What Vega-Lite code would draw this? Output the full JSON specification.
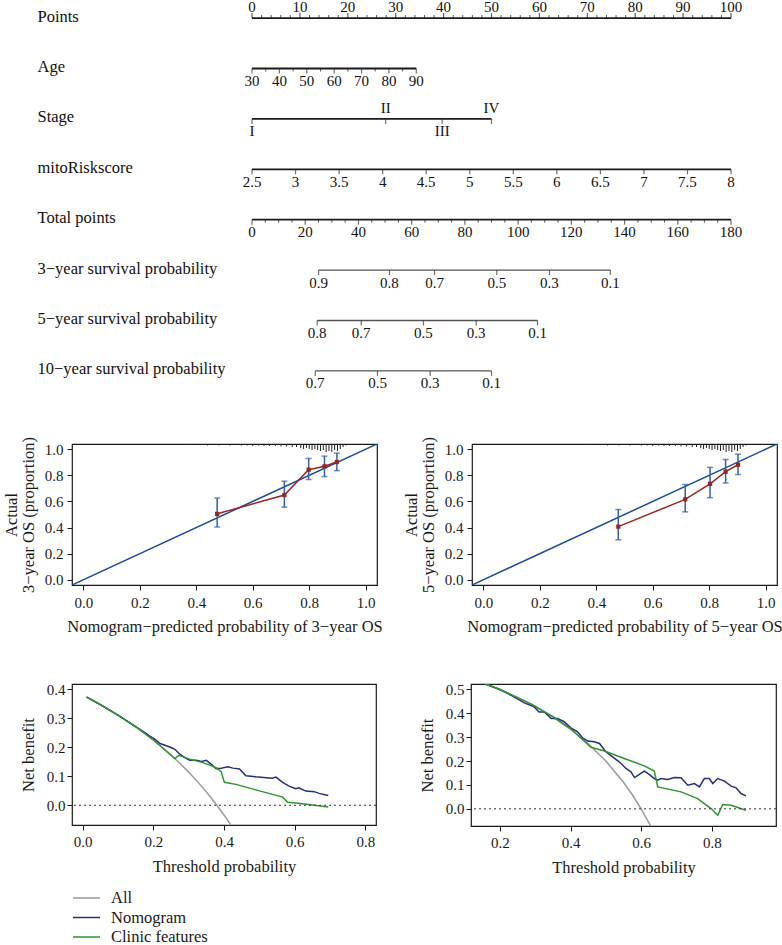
{
  "$schema": "https://vega.github.io/schema/vega-lite/v6.json",
  "padding": {"left": 2, "top": 0, "right": 0, "bottom": 0},
  "background": "white",
  "config": {
    "font": "Liberation Serif",
    "view": {"stroke": "#1a1a1a", "strokeWidth": 1.2},
    "axis": {"labelFont": "Liberation Serif", "titleFont": "Liberation Serif", "labelFontSize": 15, "titleFontSize": 16.5, "titleFontWeight": "normal", "labelColor": "#1a1a1a", "titleColor": "#1a1a1a", "tickColor": "#1a1a1a", "domain": false, "grid": false, "tickSize": 5, "labelFlush": false, "labelOverlap": false},
    "text": {"font": "Liberation Serif", "color": "#111111"}
  },
  "datasets": {
    "nomoMain": [
      {"row": "Points", "pos": 0, "end": 100},
      {"row": "Age", "pos": 0, "end": 34.3},
      {"row": "Stage", "pos": 0, "end": 50},
      {"row": "mitoRiskscore", "pos": 0, "end": 100},
      {"row": "Total points", "pos": 0, "end": 100}
    ],
    "nomoSurv": [
      {"row": "3−year survival probability", "pos": 13.9, "end": 74.8},
      {"row": "5−year survival probability", "pos": 13.6, "end": 59.6},
      {"row": "10−year survival probability", "pos": 13.2, "end": 50.0}
    ],
    "nomoTicks": [
      {"row": "Points", "pos": 0, "lab": "0"}, {"row": "Points", "pos": 10, "lab": "10"}, {"row": "Points", "pos": 20, "lab": "20"}, {"row": "Points", "pos": 30, "lab": "30"}, {"row": "Points", "pos": 40, "lab": "40"}, {"row": "Points", "pos": 50, "lab": "50"}, {"row": "Points", "pos": 60, "lab": "60"}, {"row": "Points", "pos": 70, "lab": "70"}, {"row": "Points", "pos": 80, "lab": "80"}, {"row": "Points", "pos": 90, "lab": "90"}, {"row": "Points", "pos": 100, "lab": "100"},
      {"row": "Points", "pos": 2, "lab": ""}, {"row": "Points", "pos": 4, "lab": ""}, {"row": "Points", "pos": 6, "lab": ""}, {"row": "Points", "pos": 8, "lab": ""},
      {"row": "Points", "pos": 12, "lab": ""}, {"row": "Points", "pos": 14, "lab": ""}, {"row": "Points", "pos": 16, "lab": ""}, {"row": "Points", "pos": 18, "lab": ""},
      {"row": "Points", "pos": 22, "lab": ""}, {"row": "Points", "pos": 24, "lab": ""}, {"row": "Points", "pos": 26, "lab": ""}, {"row": "Points", "pos": 28, "lab": ""},
      {"row": "Points", "pos": 32, "lab": ""}, {"row": "Points", "pos": 34, "lab": ""}, {"row": "Points", "pos": 36, "lab": ""}, {"row": "Points", "pos": 38, "lab": ""},
      {"row": "Points", "pos": 42, "lab": ""}, {"row": "Points", "pos": 44, "lab": ""}, {"row": "Points", "pos": 46, "lab": ""}, {"row": "Points", "pos": 48, "lab": ""},
      {"row": "Points", "pos": 52, "lab": ""}, {"row": "Points", "pos": 54, "lab": ""}, {"row": "Points", "pos": 56, "lab": ""}, {"row": "Points", "pos": 58, "lab": ""},
      {"row": "Points", "pos": 62, "lab": ""}, {"row": "Points", "pos": 64, "lab": ""}, {"row": "Points", "pos": 66, "lab": ""}, {"row": "Points", "pos": 68, "lab": ""},
      {"row": "Points", "pos": 72, "lab": ""}, {"row": "Points", "pos": 74, "lab": ""}, {"row": "Points", "pos": 76, "lab": ""}, {"row": "Points", "pos": 78, "lab": ""},
      {"row": "Points", "pos": 82, "lab": ""}, {"row": "Points", "pos": 84, "lab": ""}, {"row": "Points", "pos": 86, "lab": ""}, {"row": "Points", "pos": 88, "lab": ""},
      {"row": "Points", "pos": 92, "lab": ""}, {"row": "Points", "pos": 94, "lab": ""}, {"row": "Points", "pos": 96, "lab": ""}, {"row": "Points", "pos": 98, "lab": ""},
      {"row": "Age", "pos": 0, "lab": "30"}, {"row": "Age", "pos": 5.72, "lab": "40"}, {"row": "Age", "pos": 11.43, "lab": "50"}, {"row": "Age", "pos": 17.15, "lab": "60"}, {"row": "Age", "pos": 22.87, "lab": "70"}, {"row": "Age", "pos": 28.58, "lab": "80"}, {"row": "Age", "pos": 34.3, "lab": "90"},
      {"row": "Age", "pos": 2.86, "lab": ""}, {"row": "Age", "pos": 8.58, "lab": ""}, {"row": "Age", "pos": 14.29, "lab": ""}, {"row": "Age", "pos": 20.01, "lab": ""}, {"row": "Age", "pos": 25.73, "lab": ""}, {"row": "Age", "pos": 31.44, "lab": ""},
      {"row": "Stage", "pos": 0, "lab": "I"}, {"row": "Stage", "pos": 27.9, "lab": "II"}, {"row": "Stage", "pos": 39.7, "lab": "III"}, {"row": "Stage", "pos": 50.0, "lab": "IV"},
      {"row": "mitoRiskscore", "pos": 0, "lab": "2.5"}, {"row": "mitoRiskscore", "pos": 9.09, "lab": "3"}, {"row": "mitoRiskscore", "pos": 18.18, "lab": "3.5"}, {"row": "mitoRiskscore", "pos": 27.27, "lab": "4"}, {"row": "mitoRiskscore", "pos": 36.36, "lab": "4.5"}, {"row": "mitoRiskscore", "pos": 45.45, "lab": "5"}, {"row": "mitoRiskscore", "pos": 54.55, "lab": "5.5"}, {"row": "mitoRiskscore", "pos": 63.64, "lab": "6"}, {"row": "mitoRiskscore", "pos": 72.73, "lab": "6.5"}, {"row": "mitoRiskscore", "pos": 81.82, "lab": "7"}, {"row": "mitoRiskscore", "pos": 90.91, "lab": "7.5"}, {"row": "mitoRiskscore", "pos": 100, "lab": "8"},
      {"row": "Total points", "pos": 0, "lab": "0"}, {"row": "Total points", "pos": 11.11, "lab": "20"}, {"row": "Total points", "pos": 22.22, "lab": "40"}, {"row": "Total points", "pos": 33.33, "lab": "60"}, {"row": "Total points", "pos": 44.44, "lab": "80"}, {"row": "Total points", "pos": 55.56, "lab": "100"}, {"row": "Total points", "pos": 66.67, "lab": "120"}, {"row": "Total points", "pos": 77.78, "lab": "140"}, {"row": "Total points", "pos": 88.89, "lab": "160"}, {"row": "Total points", "pos": 100, "lab": "180"},
      {"row": "Total points", "pos": 2.78, "lab": ""}, {"row": "Total points", "pos": 5.56, "lab": ""}, {"row": "Total points", "pos": 8.33, "lab": ""},
      {"row": "Total points", "pos": 13.89, "lab": ""}, {"row": "Total points", "pos": 16.67, "lab": ""}, {"row": "Total points", "pos": 19.44, "lab": ""},
      {"row": "Total points", "pos": 25.0, "lab": ""}, {"row": "Total points", "pos": 27.78, "lab": ""}, {"row": "Total points", "pos": 30.56, "lab": ""},
      {"row": "Total points", "pos": 36.11, "lab": ""}, {"row": "Total points", "pos": 38.89, "lab": ""}, {"row": "Total points", "pos": 41.67, "lab": ""},
      {"row": "Total points", "pos": 47.22, "lab": ""}, {"row": "Total points", "pos": 50.0, "lab": ""}, {"row": "Total points", "pos": 52.78, "lab": ""},
      {"row": "Total points", "pos": 58.33, "lab": ""}, {"row": "Total points", "pos": 61.11, "lab": ""}, {"row": "Total points", "pos": 63.89, "lab": ""},
      {"row": "Total points", "pos": 69.44, "lab": ""}, {"row": "Total points", "pos": 72.22, "lab": ""}, {"row": "Total points", "pos": 75.0, "lab": ""},
      {"row": "Total points", "pos": 80.56, "lab": ""}, {"row": "Total points", "pos": 83.33, "lab": ""}, {"row": "Total points", "pos": 86.11, "lab": ""},
      {"row": "Total points", "pos": 91.67, "lab": ""}, {"row": "Total points", "pos": 94.44, "lab": ""}, {"row": "Total points", "pos": 97.22, "lab": ""},
      {"row": "3−year survival probability", "pos": 13.9, "lab": "0.9"}, {"row": "3−year survival probability", "pos": 28.7, "lab": "0.8"}, {"row": "3−year survival probability", "pos": 38.1, "lab": "0.7"}, {"row": "3−year survival probability", "pos": 51.1, "lab": "0.5"}, {"row": "3−year survival probability", "pos": 62.1, "lab": "0.3"}, {"row": "3−year survival probability", "pos": 74.8, "lab": "0.1"},
      {"row": "5−year survival probability", "pos": 13.6, "lab": "0.8"}, {"row": "5−year survival probability", "pos": 22.8, "lab": "0.7"}, {"row": "5−year survival probability", "pos": 35.8, "lab": "0.5"}, {"row": "5−year survival probability", "pos": 46.8, "lab": "0.3"}, {"row": "5−year survival probability", "pos": 59.6, "lab": "0.1"},
      {"row": "10−year survival probability", "pos": 13.2, "lab": "0.7"}, {"row": "10−year survival probability", "pos": 26.2, "lab": "0.5"}, {"row": "10−year survival probability", "pos": 37.2, "lab": "0.3"}, {"row": "10−year survival probability", "pos": 50.0, "lab": "0.1"}
    ],
    "diag": [{"p": -0.04}, {"p": 1.04}],
    "rug": [
      {"pred": 0.34, "low": 1.0323}, {"pred": 0.36, "low": 1.0323}, {"pred": 0.38, "low": 1.0323}, {"pred": 0.40, "low": 1.0323}, {"pred": 0.42, "low": 1.0323},
      {"pred": 0.44, "low": 1.0285}, {"pred": 0.46, "low": 1.0323}, {"pred": 0.48, "low": 1.0285}, {"pred": 0.50, "low": 1.0323}, {"pred": 0.52, "low": 1.0285},
      {"pred": 0.54, "low": 1.0323}, {"pred": 0.56, "low": 1.0285}, {"pred": 0.58, "low": 1.0285}, {"pred": 0.60, "low": 1.0247}, {"pred": 0.62, "low": 1.0285},
      {"pred": 0.64, "low": 1.0247}, {"pred": 0.66, "low": 1.0247}, {"pred": 0.68, "low": 1.0247}, {"pred": 0.70, "low": 1.0209}, {"pred": 0.72, "low": 1.0209},
      {"pred": 0.74, "low": 1.017}, {"pred": 0.755, "low": 1.017}, {"pred": 0.77, "low": 1.0094}, {"pred": 0.78, "low": 1.0017}, {"pred": 0.79, "low": 1.0094},
      {"pred": 0.80, "low": 1.0017}, {"pred": 0.81, "low": 0.994}, {"pred": 0.82, "low": 1.0017}, {"pred": 0.83, "low": 0.994}, {"pred": 0.84, "low": 0.9864},
      {"pred": 0.85, "low": 0.994}, {"pred": 0.86, "low": 0.9787}, {"pred": 0.87, "low": 0.9864}, {"pred": 0.88, "low": 0.9787}, {"pred": 0.89, "low": 0.994},
      {"pred": 0.90, "low": 0.9864}, {"pred": 0.91, "low": 1.0017}, {"pred": 0.92, "low": 1.017}, {"pred": 0.93, "low": 1.0285}
    ],
    "cal3": [
      {"pred": 0.474, "obs": 0.505, "lo": 0.404, "hi": 0.626},
      {"pred": 0.712, "obs": 0.649, "lo": 0.556, "hi": 0.755},
      {"pred": 0.798, "obs": 0.843, "lo": 0.768, "hi": 0.929},
      {"pred": 0.854, "obs": 0.869, "lo": 0.79, "hi": 0.947},
      {"pred": 0.898, "obs": 0.902, "lo": 0.836, "hi": 0.97}
    ],
    "cal5": [
      {"pred": 0.478, "obs": 0.407, "lo": 0.306, "hi": 0.538},
      {"pred": 0.715, "obs": 0.616, "lo": 0.52, "hi": 0.73},
      {"pred": 0.803, "obs": 0.735, "lo": 0.629, "hi": 0.861},
      {"pred": 0.858, "obs": 0.828, "lo": 0.742, "hi": 0.922},
      {"pred": 0.902, "obs": 0.881, "lo": 0.806, "hi": 0.962}
    ],
    "zero": [{"v": 0}],
    "dca1": [
      {"model": "All", "t": 0.01, "nb": 0.3737}, {"model": "All", "t": 0.05, "nb": 0.3474}, {"model": "All", "t": 0.1, "nb": 0.3111}, {"model": "All", "t": 0.15, "nb": 0.2706}, {"model": "All", "t": 0.2, "nb": 0.225}, {"model": "All", "t": 0.225, "nb": 0.2}, {"model": "All", "t": 0.25, "nb": 0.1733}, {"model": "All", "t": 0.275, "nb": 0.1448}, {"model": "All", "t": 0.3, "nb": 0.1143}, {"model": "All", "t": 0.325, "nb": 0.0815}, {"model": "All", "t": 0.35, "nb": 0.0462}, {"model": "All", "t": 0.375, "nb": 0.008}, {"model": "All", "t": 0.4, "nb": -0.0333}, {"model": "All", "t": 0.419, "nb": -0.0675},
      {"model": "Nomogram", "t": 0.012, "nb": 0.373}, {"model": "Nomogram", "t": 0.05, "nb": 0.347}, {"model": "Nomogram", "t": 0.1, "nb": 0.311}, {"model": "Nomogram", "t": 0.15, "nb": 0.271}, {"model": "Nomogram", "t": 0.172, "nb": 0.254}, {"model": "Nomogram", "t": 0.19, "nb": 0.238}, {"model": "Nomogram", "t": 0.204, "nb": 0.228}, {"model": "Nomogram", "t": 0.219, "nb": 0.213}, {"model": "Nomogram", "t": 0.237, "nb": 0.205}, {"model": "Nomogram", "t": 0.247, "nb": 0.201}, {"model": "Nomogram", "t": 0.261, "nb": 0.193}, {"model": "Nomogram", "t": 0.275, "nb": 0.176}, {"model": "Nomogram", "t": 0.289, "nb": 0.164}, {"model": "Nomogram", "t": 0.303, "nb": 0.155}, {"model": "Nomogram", "t": 0.322, "nb": 0.155}, {"model": "Nomogram", "t": 0.336, "nb": 0.151}, {"model": "Nomogram", "t": 0.35, "nb": 0.155}, {"model": "Nomogram", "t": 0.364, "nb": 0.141}, {"model": "Nomogram", "t": 0.378, "nb": 0.126}, {"model": "Nomogram", "t": 0.392, "nb": 0.128}, {"model": "Nomogram", "t": 0.411, "nb": 0.133}, {"model": "Nomogram", "t": 0.425, "nb": 0.128}, {"model": "Nomogram", "t": 0.444, "nb": 0.125}, {"model": "Nomogram", "t": 0.462, "nb": 0.102}, {"model": "Nomogram", "t": 0.49, "nb": 0.098}, {"model": "Nomogram", "t": 0.519, "nb": 0.095}, {"model": "Nomogram", "t": 0.537, "nb": 0.093}, {"model": "Nomogram", "t": 0.547, "nb": 0.097}, {"model": "Nomogram", "t": 0.566, "nb": 0.079}, {"model": "Nomogram", "t": 0.584, "nb": 0.066}, {"model": "Nomogram", "t": 0.603, "nb": 0.057}, {"model": "Nomogram", "t": 0.612, "nb": 0.06}, {"model": "Nomogram", "t": 0.631, "nb": 0.049}, {"model": "Nomogram", "t": 0.655, "nb": 0.047}, {"model": "Nomogram", "t": 0.669, "nb": 0.041}, {"model": "Nomogram", "t": 0.695, "nb": 0.034},
      {"model": "Clinic features", "t": 0.012, "nb": 0.373}, {"model": "Clinic features", "t": 0.05, "nb": 0.347}, {"model": "Clinic features", "t": 0.1, "nb": 0.311}, {"model": "Clinic features", "t": 0.15, "nb": 0.271}, {"model": "Clinic features", "t": 0.2, "nb": 0.225}, {"model": "Clinic features", "t": 0.261, "nb": 0.161}, {"model": "Clinic features", "t": 0.272, "nb": 0.172}, {"model": "Clinic features", "t": 0.303, "nb": 0.159}, {"model": "Clinic features", "t": 0.34, "nb": 0.147}, {"model": "Clinic features", "t": 0.378, "nb": 0.13}, {"model": "Clinic features", "t": 0.392, "nb": 0.116}, {"model": "Clinic features", "t": 0.401, "nb": 0.079}, {"model": "Clinic features", "t": 0.434, "nb": 0.072}, {"model": "Clinic features", "t": 0.49, "nb": 0.053}, {"model": "Clinic features", "t": 0.566, "nb": 0.028}, {"model": "Clinic features", "t": 0.58, "nb": 0.01}, {"model": "Clinic features", "t": 0.603, "nb": 0.008}, {"model": "Clinic features", "t": 0.65, "nb": 0.001}, {"model": "Clinic features", "t": 0.695, "nb": -0.006}
    ],
    "dca2": [
      {"model": "All", "t": 0.16, "nb": 0.5238}, {"model": "All", "t": 0.2, "nb": 0.5}, {"model": "All", "t": 0.25, "nb": 0.4667}, {"model": "All", "t": 0.3, "nb": 0.4286}, {"model": "All", "t": 0.35, "nb": 0.3846}, {"model": "All", "t": 0.4, "nb": 0.3333}, {"model": "All", "t": 0.45, "nb": 0.2727}, {"model": "All", "t": 0.5, "nb": 0.2}, {"model": "All", "t": 0.55, "nb": 0.1111}, {"model": "All", "t": 0.575, "nb": 0.0588}, {"model": "All", "t": 0.6, "nb": 0.0}, {"model": "All", "t": 0.627, "nb": -0.072},
      {"model": "Nomogram", "t": 0.16, "nb": 0.522}, {"model": "Nomogram", "t": 0.2, "nb": 0.5}, {"model": "Nomogram", "t": 0.231, "nb": 0.476}, {"model": "Nomogram", "t": 0.269, "nb": 0.444}, {"model": "Nomogram", "t": 0.297, "nb": 0.427}, {"model": "Nomogram", "t": 0.311, "nb": 0.406}, {"model": "Nomogram", "t": 0.326, "nb": 0.406}, {"model": "Nomogram", "t": 0.345, "nb": 0.378}, {"model": "Nomogram", "t": 0.363, "nb": 0.378}, {"model": "Nomogram", "t": 0.382, "nb": 0.365}, {"model": "Nomogram", "t": 0.401, "nb": 0.339}, {"model": "Nomogram", "t": 0.42, "nb": 0.323}, {"model": "Nomogram", "t": 0.434, "nb": 0.297}, {"model": "Nomogram", "t": 0.449, "nb": 0.284}, {"model": "Nomogram", "t": 0.467, "nb": 0.281}, {"model": "Nomogram", "t": 0.482, "nb": 0.274}, {"model": "Nomogram", "t": 0.5, "nb": 0.239}, {"model": "Nomogram", "t": 0.519, "nb": 0.218}, {"model": "Nomogram", "t": 0.538, "nb": 0.197}, {"model": "Nomogram", "t": 0.557, "nb": 0.169}, {"model": "Nomogram", "t": 0.571, "nb": 0.155}, {"model": "Nomogram", "t": 0.581, "nb": 0.131}, {"model": "Nomogram", "t": 0.595, "nb": 0.144}, {"model": "Nomogram", "t": 0.609, "nb": 0.158}, {"model": "Nomogram", "t": 0.623, "nb": 0.144}, {"model": "Nomogram", "t": 0.637, "nb": 0.127}, {"model": "Nomogram", "t": 0.647, "nb": 0.12}, {"model": "Nomogram", "t": 0.656, "nb": 0.127}, {"model": "Nomogram", "t": 0.675, "nb": 0.123}, {"model": "Nomogram", "t": 0.694, "nb": 0.131}, {"model": "Nomogram", "t": 0.713, "nb": 0.13}, {"model": "Nomogram", "t": 0.732, "nb": 0.099}, {"model": "Nomogram", "t": 0.751, "nb": 0.106}, {"model": "Nomogram", "t": 0.765, "nb": 0.092}, {"model": "Nomogram", "t": 0.779, "nb": 0.127}, {"model": "Nomogram", "t": 0.793, "nb": 0.127}, {"model": "Nomogram", "t": 0.803, "nb": 0.106}, {"model": "Nomogram", "t": 0.817, "nb": 0.127}, {"model": "Nomogram", "t": 0.836, "nb": 0.116}, {"model": "Nomogram", "t": 0.855, "nb": 0.095}, {"model": "Nomogram", "t": 0.869, "nb": 0.088}, {"model": "Nomogram", "t": 0.883, "nb": 0.064}, {"model": "Nomogram", "t": 0.897, "nb": 0.054},
      {"model": "Clinic features", "t": 0.16, "nb": 0.522}, {"model": "Clinic features", "t": 0.2, "nb": 0.5}, {"model": "Clinic features", "t": 0.288, "nb": 0.44}, {"model": "Clinic features", "t": 0.354, "nb": 0.383}, {"model": "Clinic features", "t": 0.401, "nb": 0.335}, {"model": "Clinic features", "t": 0.458, "nb": 0.258}, {"model": "Clinic features", "t": 0.496, "nb": 0.242}, {"model": "Clinic features", "t": 0.552, "nb": 0.211}, {"model": "Clinic features", "t": 0.609, "nb": 0.18}, {"model": "Clinic features", "t": 0.637, "nb": 0.158}, {"model": "Clinic features", "t": 0.647, "nb": 0.092}, {"model": "Clinic features", "t": 0.713, "nb": 0.071}, {"model": "Clinic features", "t": 0.76, "nb": 0.043}, {"model": "Clinic features", "t": 0.798, "nb": 0.001}, {"model": "Clinic features", "t": 0.817, "nb": -0.027}, {"model": "Clinic features", "t": 0.831, "nb": 0.018}, {"model": "Clinic features", "t": 0.855, "nb": 0.015}, {"model": "Clinic features", "t": 0.897, "nb": -0.006}
    ]
  },
  "resolve": {"scale": {"x": "independent", "y": "independent"}},
  "spacing": 43,
  "vconcat": [
    {
      "width": 680,
      "height": 383,
      "view": {"stroke": null},
      "encoding": {
        "x": {"field": "pos", "type": "quantitative", "scale": {"domain": [-37.58, 104.38], "nice": false, "zero": false}, "axis": null},
        "y": {"field": "row", "type": "nominal", "sort": null,
              "scale": {"type": "point", "padding": 0.3, "domain": ["Points", "Age", "Stage", "mitoRiskscore", "Total points", "3−year survival probability", "5−year survival probability", "10−year survival probability"]},
              "axis": {"title": null, "domain": false, "ticks": false, "tickSize": 0, "labelAlign": "left", "labelBaseline": "middle", "labelPadding": 35, "labelFontSize": 16.5, "labelColor": "#111111", "labelOffset": -2, "labelLimit": 400}}
      },
      "layer": [
        {"data": {"name": "nomoMain"}, "mark": {"type": "rule", "strokeWidth": 1.8, "color": "#1a1a1a"}, "encoding": {"x2": {"field": "end"}}},
        {"data": {"name": "nomoSurv"}, "mark": {"type": "rule", "strokeWidth": 1.3, "color": "#555555"}, "encoding": {"x2": {"field": "end"}}},
        {"data": {"name": "nomoTicks"}, "transform": [{"filter": "datum.row === 'Points' && datum.lab !== ''"}], "mark": {"type": "tick", "orient": "vertical", "size": 5, "thickness": 1.2, "yOffset": -2.5, "color": "#1a1a1a"}},
        {"data": {"name": "nomoTicks"}, "transform": [{"filter": "datum.row === 'Points' && datum.lab === ''"}], "mark": {"type": "tick", "orient": "vertical", "size": 3, "thickness": 1, "yOffset": -1.5, "color": "#1a1a1a"}},
        {"data": {"name": "nomoTicks"}, "transform": [{"filter": "datum.row !== 'Points' && datum.lab !== ''"}], "mark": {"type": "tick", "orient": "vertical", "size": 5, "thickness": 1.2, "yOffset": 2.5, "color": "#333333"}},
        {"data": {"name": "nomoTicks"}, "transform": [{"filter": "datum.row !== 'Points' && datum.lab === ''"}], "mark": {"type": "tick", "orient": "vertical", "size": 3, "thickness": 1, "yOffset": 1.5, "color": "#1a1a1a"}},
        {"data": {"name": "nomoTicks"}, "transform": [{"filter": "datum.lab !== '' && (datum.row === 'Points' || datum.lab === 'II' || datum.lab === 'IV')"}], "mark": {"type": "text", "dy": -11, "baseline": "middle", "fontSize": 15, "color": "#111111"}, "encoding": {"text": {"field": "lab"}}},
        {"data": {"name": "nomoTicks"}, "transform": [{"filter": "datum.lab !== '' && !(datum.row === 'Points' || datum.lab === 'II' || datum.lab === 'IV')"}], "mark": {"type": "text", "dy": 12.5, "baseline": "middle", "fontSize": 15, "color": "#111111"}, "encoding": {"text": {"field": "lab"}}}
      ]
    },
    {
      "resolve": {"scale": {"x": "independent", "y": "independent"}},
      "spacing": 45,
      "vconcat": [
        {
          "resolve": {"scale": {"x": "independent", "y": "independent"}},
          "spacing": 19,
          "hconcat": [
            {
              "width": 305, "height": 141,
              "layer": [
                {"data": {"name": "diag"}, "mark": {"type": "line", "color": "#1b4c9c", "strokeWidth": 1.5, "clip": true},
                 "encoding": {
                   "x": {"field": "p", "type": "quantitative", "scale": {"domain": [-0.04, 1.04], "nice": false, "zero": false}, "axis": {"title": "Nomogram−predicted probability of 3−year OS", "values": [0, 0.2, 0.4, 0.6, 0.8, 1.0], "format": ".1f", "labelPadding": 5, "titlePadding": 8, "labelOverlap": false}},
                   "y": {"field": "p", "type": "quantitative", "scale": {"domain": [-0.04, 1.04], "nice": false, "zero": false}, "axis": {"title": ["Actual", "3−year OS (proportion)"], "values": [0, 0.2, 0.4, 0.6, 0.8, 1.0], "format": ".1f", "labelPadding": 4, "titlePadding": 8, "titleLineHeight": 17, "labelOverlap": false}}
                 }},
                {"data": {"name": "rug"}, "mark": {"type": "rule", "color": "#222222", "strokeWidth": 1},
                 "encoding": {
                   "x": {"field": "pred", "type": "quantitative", "scale": {"domain": [-0.04, 1.04], "nice": false, "zero": false}, "axis": {"title": "Nomogram−predicted probability of 3−year OS", "values": [0, 0.2, 0.4, 0.6, 0.8, 1.0], "format": ".1f", "labelPadding": 5, "titlePadding": 8, "labelOverlap": false}},
                   "y": {"field": "low", "type": "quantitative", "scale": {"domain": [-0.04, 1.04], "nice": false, "zero": false}, "axis": {"title": ["Actual", "3−year OS (proportion)"], "values": [0, 0.2, 0.4, 0.6, 0.8, 1.0], "format": ".1f", "labelPadding": 4, "titlePadding": 8, "titleLineHeight": 17, "labelOverlap": false}},
                   "y2": {"datum": 1.04}
                 }},
                {"data": {"name": "cal3"}, "mark": {"type": "rule", "color": "#2f5fae", "strokeWidth": 1.5},
                 "encoding": {
                   "x": {"field": "pred", "type": "quantitative", "scale": {"domain": [-0.04, 1.04], "nice": false, "zero": false}, "axis": {"title": "Nomogram−predicted probability of 3−year OS", "values": [0, 0.2, 0.4, 0.6, 0.8, 1.0], "format": ".1f", "labelPadding": 5, "titlePadding": 8, "labelOverlap": false}},
                   "y": {"field": "lo", "type": "quantitative", "scale": {"domain": [-0.04, 1.04], "nice": false, "zero": false}, "axis": {"title": ["Actual", "3−year OS (proportion)"], "values": [0, 0.2, 0.4, 0.6, 0.8, 1.0], "format": ".1f", "labelPadding": 4, "titlePadding": 8, "titleLineHeight": 17, "labelOverlap": false}},
                   "y2": {"field": "hi"}
                 }},
                {"data": {"name": "cal3"}, "mark": {"type": "tick", "orient": "horizontal", "color": "#2f5fae", "size": 6, "thickness": 1.5},
                 "encoding": {
                   "x": {"field": "pred", "type": "quantitative", "scale": {"domain": [-0.04, 1.04], "nice": false, "zero": false}, "axis": {"title": "Nomogram−predicted probability of 3−year OS", "values": [0, 0.2, 0.4, 0.6, 0.8, 1.0], "format": ".1f", "labelPadding": 5, "titlePadding": 8, "labelOverlap": false}},
                   "y": {"field": "hi", "type": "quantitative", "scale": {"domain": [-0.04, 1.04], "nice": false, "zero": false}, "axis": {"title": ["Actual", "3−year OS (proportion)"], "values": [0, 0.2, 0.4, 0.6, 0.8, 1.0], "format": ".1f", "labelPadding": 4, "titlePadding": 8, "titleLineHeight": 17, "labelOverlap": false}}
                 }},
                {"data": {"name": "cal3"}, "mark": {"type": "tick", "orient": "horizontal", "color": "#2f5fae", "size": 6, "thickness": 1.5},
                 "encoding": {
                   "x": {"field": "pred", "type": "quantitative", "scale": {"domain": [-0.04, 1.04], "nice": false, "zero": false}, "axis": {"title": "Nomogram−predicted probability of 3−year OS", "values": [0, 0.2, 0.4, 0.6, 0.8, 1.0], "format": ".1f", "labelPadding": 5, "titlePadding": 8, "labelOverlap": false}},
                   "y": {"field": "lo", "type": "quantitative", "scale": {"domain": [-0.04, 1.04], "nice": false, "zero": false}, "axis": {"title": ["Actual", "3−year OS (proportion)"], "values": [0, 0.2, 0.4, 0.6, 0.8, 1.0], "format": ".1f", "labelPadding": 4, "titlePadding": 8, "titleLineHeight": 17, "labelOverlap": false}}
                 }},
                {"data": {"name": "cal3"}, "mark": {"type": "line", "color": "#9c2420", "strokeWidth": 1.5},
                 "encoding": {
                   "x": {"field": "pred", "type": "quantitative", "scale": {"domain": [-0.04, 1.04], "nice": false, "zero": false}, "axis": {"title": "Nomogram−predicted probability of 3−year OS", "values": [0, 0.2, 0.4, 0.6, 0.8, 1.0], "format": ".1f", "labelPadding": 5, "titlePadding": 8, "labelOverlap": false}},
                   "y": {"field": "obs", "type": "quantitative", "scale": {"domain": [-0.04, 1.04], "nice": false, "zero": false}, "axis": {"title": ["Actual", "3−year OS (proportion)"], "values": [0, 0.2, 0.4, 0.6, 0.8, 1.0], "format": ".1f", "labelPadding": 4, "titlePadding": 8, "titleLineHeight": 17, "labelOverlap": false}}
                 }},
                {"data": {"name": "cal3"}, "mark": {"type": "point", "shape": "square", "filled": true, "opacity": 1, "color": "#9c2420", "size": 18},
                 "encoding": {
                   "x": {"field": "pred", "type": "quantitative", "scale": {"domain": [-0.04, 1.04], "nice": false, "zero": false}, "axis": {"title": "Nomogram−predicted probability of 3−year OS", "values": [0, 0.2, 0.4, 0.6, 0.8, 1.0], "format": ".1f", "labelPadding": 5, "titlePadding": 8, "labelOverlap": false}},
                   "y": {"field": "obs", "type": "quantitative", "scale": {"domain": [-0.04, 1.04], "nice": false, "zero": false}, "axis": {"title": ["Actual", "3−year OS (proportion)"], "values": [0, 0.2, 0.4, 0.6, 0.8, 1.0], "format": ".1f", "labelPadding": 4, "titlePadding": 8, "titleLineHeight": 17, "labelOverlap": false}}
                 }}
              ]
            },
            {
              "width": 305, "height": 141,
              "layer": [
                {"data": {"name": "diag"}, "mark": {"type": "line", "color": "#1b4c9c", "strokeWidth": 1.5, "clip": true},
                 "encoding": {
                   "x": {"field": "p", "type": "quantitative", "scale": {"domain": [-0.04, 1.04], "nice": false, "zero": false}, "axis": {"title": "Nomogram−predicted probability of 5−year OS", "values": [0, 0.2, 0.4, 0.6, 0.8, 1.0], "format": ".1f", "labelPadding": 5, "titlePadding": 8, "labelOverlap": false}},
                   "y": {"field": "p", "type": "quantitative", "scale": {"domain": [-0.04, 1.04], "nice": false, "zero": false}, "axis": {"title": ["Actual", "5−year OS (proportion)"], "values": [0, 0.2, 0.4, 0.6, 0.8, 1.0], "format": ".1f", "labelPadding": 4, "titlePadding": 8, "titleLineHeight": 17, "labelOverlap": false}}
                 }},
                {"data": {"name": "rug"}, "mark": {"type": "rule", "color": "#222222", "strokeWidth": 1},
                 "encoding": {
                   "x": {"field": "pred", "type": "quantitative", "scale": {"domain": [-0.04, 1.04], "nice": false, "zero": false}, "axis": {"title": "Nomogram−predicted probability of 5−year OS", "values": [0, 0.2, 0.4, 0.6, 0.8, 1.0], "format": ".1f", "labelPadding": 5, "titlePadding": 8, "labelOverlap": false}},
                   "y": {"field": "low", "type": "quantitative", "scale": {"domain": [-0.04, 1.04], "nice": false, "zero": false}, "axis": {"title": ["Actual", "5−year OS (proportion)"], "values": [0, 0.2, 0.4, 0.6, 0.8, 1.0], "format": ".1f", "labelPadding": 4, "titlePadding": 8, "titleLineHeight": 17, "labelOverlap": false}},
                   "y2": {"datum": 1.04}
                 }},
                {"data": {"name": "cal5"}, "mark": {"type": "rule", "color": "#2f5fae", "strokeWidth": 1.5},
                 "encoding": {
                   "x": {"field": "pred", "type": "quantitative", "scale": {"domain": [-0.04, 1.04], "nice": false, "zero": false}, "axis": {"title": "Nomogram−predicted probability of 5−year OS", "values": [0, 0.2, 0.4, 0.6, 0.8, 1.0], "format": ".1f", "labelPadding": 5, "titlePadding": 8, "labelOverlap": false}},
                   "y": {"field": "lo", "type": "quantitative", "scale": {"domain": [-0.04, 1.04], "nice": false, "zero": false}, "axis": {"title": ["Actual", "5−year OS (proportion)"], "values": [0, 0.2, 0.4, 0.6, 0.8, 1.0], "format": ".1f", "labelPadding": 4, "titlePadding": 8, "titleLineHeight": 17, "labelOverlap": false}},
                   "y2": {"field": "hi"}
                 }},
                {"data": {"name": "cal5"}, "mark": {"type": "tick", "orient": "horizontal", "color": "#2f5fae", "size": 6, "thickness": 1.5},
                 "encoding": {
                   "x": {"field": "pred", "type": "quantitative", "scale": {"domain": [-0.04, 1.04], "nice": false, "zero": false}, "axis": {"title": "Nomogram−predicted probability of 5−year OS", "values": [0, 0.2, 0.4, 0.6, 0.8, 1.0], "format": ".1f", "labelPadding": 5, "titlePadding": 8, "labelOverlap": false}},
                   "y": {"field": "hi", "type": "quantitative", "scale": {"domain": [-0.04, 1.04], "nice": false, "zero": false}, "axis": {"title": ["Actual", "5−year OS (proportion)"], "values": [0, 0.2, 0.4, 0.6, 0.8, 1.0], "format": ".1f", "labelPadding": 4, "titlePadding": 8, "titleLineHeight": 17, "labelOverlap": false}}
                 }},
                {"data": {"name": "cal5"}, "mark": {"type": "tick", "orient": "horizontal", "color": "#2f5fae", "size": 6, "thickness": 1.5},
                 "encoding": {
                   "x": {"field": "pred", "type": "quantitative", "scale": {"domain": [-0.04, 1.04], "nice": false, "zero": false}, "axis": {"title": "Nomogram−predicted probability of 5−year OS", "values": [0, 0.2, 0.4, 0.6, 0.8, 1.0], "format": ".1f", "labelPadding": 5, "titlePadding": 8, "labelOverlap": false}},
                   "y": {"field": "lo", "type": "quantitative", "scale": {"domain": [-0.04, 1.04], "nice": false, "zero": false}, "axis": {"title": ["Actual", "5−year OS (proportion)"], "values": [0, 0.2, 0.4, 0.6, 0.8, 1.0], "format": ".1f", "labelPadding": 4, "titlePadding": 8, "titleLineHeight": 17, "labelOverlap": false}}
                 }},
                {"data": {"name": "cal5"}, "mark": {"type": "line", "color": "#9c2420", "strokeWidth": 1.5},
                 "encoding": {
                   "x": {"field": "pred", "type": "quantitative", "scale": {"domain": [-0.04, 1.04], "nice": false, "zero": false}, "axis": {"title": "Nomogram−predicted probability of 5−year OS", "values": [0, 0.2, 0.4, 0.6, 0.8, 1.0], "format": ".1f", "labelPadding": 5, "titlePadding": 8, "labelOverlap": false}},
                   "y": {"field": "obs", "type": "quantitative", "scale": {"domain": [-0.04, 1.04], "nice": false, "zero": false}, "axis": {"title": ["Actual", "5−year OS (proportion)"], "values": [0, 0.2, 0.4, 0.6, 0.8, 1.0], "format": ".1f", "labelPadding": 4, "titlePadding": 8, "titleLineHeight": 17, "labelOverlap": false}}
                 }},
                {"data": {"name": "cal5"}, "mark": {"type": "point", "shape": "square", "filled": true, "opacity": 1, "color": "#9c2420", "size": 18},
                 "encoding": {
                   "x": {"field": "pred", "type": "quantitative", "scale": {"domain": [-0.04, 1.04], "nice": false, "zero": false}, "axis": {"title": "Nomogram−predicted probability of 5−year OS", "values": [0, 0.2, 0.4, 0.6, 0.8, 1.0], "format": ".1f", "labelPadding": 5, "titlePadding": 8, "labelOverlap": false}},
                   "y": {"field": "obs", "type": "quantitative", "scale": {"domain": [-0.04, 1.04], "nice": false, "zero": false}, "axis": {"title": ["Actual", "5−year OS (proportion)"], "values": [0, 0.2, 0.4, 0.6, 0.8, 1.0], "format": ".1f", "labelPadding": 4, "titlePadding": 8, "titleLineHeight": 17, "labelOverlap": false}}
                 }}
              ]
            }
          ]
        },
        {
          "resolve": {"scale": {"x": "independent", "y": "independent", "color": "independent"}},
          "spacing": 40,
          "hconcat": [
            {
              "width": 304, "height": 141,
              "layer": [
                {"data": {"name": "dca1"}, "mark": {"type": "line", "strokeWidth": 1.5, "clip": true},
                 "encoding": {
                   "x": {"field": "t", "type": "quantitative", "scale": {"domain": [-0.03, 0.83], "nice": false, "zero": false}, "axis": {"title": "Threshold probability", "values": [0, 0.2, 0.4, 0.6, 0.8], "format": ".1f", "labelPadding": 4, "titlePadding": 9, "labelOverlap": false}},
                   "y": {"field": "nb", "type": "quantitative", "scale": {"domain": [-0.068, 0.418], "nice": false, "zero": false}, "axis": {"title": "Net benefit", "values": [0, 0.1, 0.2, 0.3, 0.4], "format": ".1f", "labelPadding": 2, "titlePadding": 10, "labelOverlap": false}},
                   "color": {"field": "model", "type": "nominal", "scale": {"domain": ["All", "Nomogram", "Clinic features"], "range": ["#9a9a9a", "#27307c", "#2f952c"]},
                     "legend": {"title": null, "orient": "bottom", "direction": "vertical", "offset": 14, "symbolType": "stroke", "symbolSize": 729, "symbolStrokeWidth": 1.5, "labelFont": "Liberation Serif", "labelFontSize": 16.5, "labelColor": "#1a1a1a", "labelOffset": 10, "rowPadding": 1.5, "clipHeight": 18, "padding": 0}}
                 }},
                {"data": {"name": "zero"}, "mark": {"type": "rule", "strokeDash": [2, 3], "color": "#333333", "strokeWidth": 1},
                 "encoding": {"y": {"field": "v", "type": "quantitative", "scale": {"domain": [-0.068, 0.418], "nice": false, "zero": false}, "axis": {"title": "Net benefit", "values": [0, 0.1, 0.2, 0.3, 0.4], "format": ".1f", "labelPadding": 2, "titlePadding": 10, "labelOverlap": false}}}}
              ]
            },
            {
              "width": 305, "height": 142,
              "layer": [
                {"data": {"name": "dca2"}, "mark": {"type": "line", "strokeWidth": 1.5, "clip": true},
                 "encoding": {
                   "x": {"field": "t", "type": "quantitative", "scale": {"domain": [0.118, 0.982], "nice": false, "zero": false}, "axis": {"title": "Threshold probability", "values": [0.2, 0.4, 0.6, 0.8], "format": ".1f", "labelPadding": 4, "titlePadding": 9, "labelOverlap": false}},
                   "y": {"field": "nb", "type": "quantitative", "scale": {"domain": [-0.072, 0.523], "nice": false, "zero": false}, "axis": {"title": "Net benefit", "values": [0, 0.1, 0.2, 0.3, 0.4, 0.5], "format": ".1f", "labelPadding": 2, "titlePadding": 10, "labelOverlap": false}},
                   "color": {"field": "model", "type": "nominal", "scale": {"domain": ["All", "Nomogram", "Clinic features"], "range": ["#9a9a9a", "#27307c", "#2f952c"]}, "legend": null}
                 }},
                {"data": {"name": "zero"}, "mark": {"type": "rule", "strokeDash": [2, 3], "color": "#333333", "strokeWidth": 1},
                 "encoding": {"y": {"field": "v", "type": "quantitative", "scale": {"domain": [-0.072, 0.523], "nice": false, "zero": false}, "axis": {"title": "Net benefit", "values": [0, 0.1, 0.2, 0.3, 0.4, 0.5], "format": ".1f", "labelPadding": 2, "titlePadding": 10, "labelOverlap": false}}}}
              ]
            }
          ]
        }
      ]
    }
  ]
}
